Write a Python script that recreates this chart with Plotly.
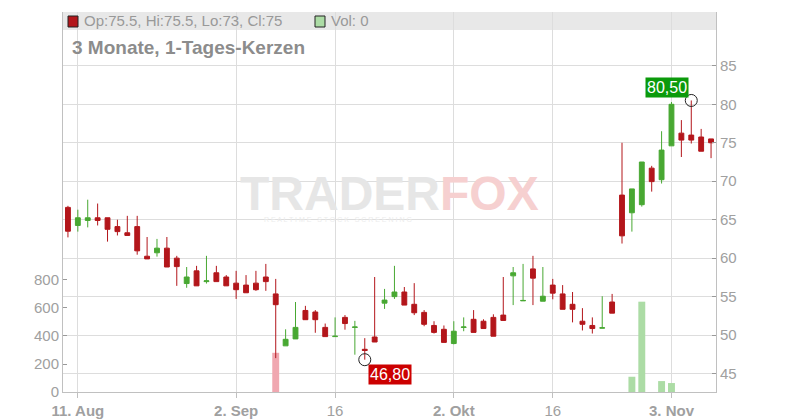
import pandas as pd
import plotly.graph_objects as go

# ---- data ----
dates = [d.strftime("%Y-%m-%d") for d in pd.bdate_range("2025-08-08", "2025-11-07")]

opens = [66.6, 64.25, 64.9, 65.25, 65.25, 64.1, 63.3, 64.1, 60.25, 60.7,
         61.3, 60.0, 56.7, 58.35, 56.95, 58.1, 57.55, 56.75, 56.5, 56.75,
         57.55, 55.35, 48.6, 49.5, 53.2, 53.0, 51.0, 49.8, 52.3, 51.0,
         48.15, 49.75, 54.15, 55.0, 55.6, 54.0, 52.95, 51.25, 50.75, 48.9,
         51.0, 52.05, 51.8, 52.3, 52.6, 57.7, 54.45, 58.6, 54.4, 56.5,
         55.35, 54.0, 51.8, 51.25, 50.9, 54.3, 68.2, 65.9, 66.95, 71.7,
         70.2, 74.6, 76.25, 76.0, 75.75, 75.5]
highs = [66.8, 66.3, 67.6, 67.1, 65.25, 65.0, 65.5, 65.5, 62.75, 62.5,
         62.75, 60.3, 58.85, 59.0, 60.3, 59.0, 57.8, 58.35, 57.8, 58.35,
         59.25, 57.3, 50.75, 54.3, 53.8, 53.25, 51.5, 52.3, 52.6, 51.85,
         49.6, 57.55, 56.0, 59.0, 56.25, 56.75, 53.25, 51.8, 51.25, 51.8,
         52.3, 53.25, 52.05, 52.7, 57.55, 58.85, 59.25, 60.3, 58.85, 57.3,
         56.5, 55.6, 53.5, 52.3, 55.05, 55.35, 75.0, 69.0, 72.5, 72.0,
         76.5, 80.3, 77.95, 80.5, 76.8, 75.5]
lows = [62.7, 63.45, 64.0, 64.25, 62.15, 62.95, 62.95, 60.45, 59.9, 60.2,
        58.85, 56.4, 56.15, 56.4, 56.7, 56.95, 56.4, 54.7, 55.5, 55.75,
        55.75, 47.0, 48.6, 49.5, 52.0, 50.3, 49.8, 49.8, 50.7, 47.45,
        46.8, 49.1, 53.4, 54.7, 53.9, 52.6, 51.15, 50.2, 49.05, 48.8,
        50.5, 50.35, 50.85, 49.85, 51.9, 53.9, 54.45, 53.9, 54.4, 54.65,
        53.35, 51.65, 50.6, 50.2, 50.9, 52.85, 61.9, 63.45, 66.7, 68.65,
        69.7, 74.6, 73.15, 74.9, 73.9, 73.0]
closes = [63.5, 65.25, 65.25, 64.9, 63.75, 63.45, 62.95, 60.95, 59.9, 61.3,
          58.85, 58.9, 57.55, 56.4, 57.05, 56.95, 56.4, 55.9, 55.5, 55.9,
          56.95, 53.95, 49.45, 51.0, 52.0, 52.0, 49.8, 49.85, 51.5, 51.05,
          48.0, 49.1, 54.55, 55.6, 53.9, 52.9, 51.4, 50.35, 49.05, 50.5,
          51.05, 50.35, 50.85, 49.85, 51.9, 58.1, 54.5, 57.4, 55.05, 55.45,
          53.35, 53.35, 51.4, 50.85, 50.95, 52.85, 62.9, 69.0, 72.5, 69.95,
          74.05, 80.0, 75.35, 75.35, 73.9, 75.0]
volumes = [0, 0, 0, 0, 0, 0, 0, 0, 0, 0,
           0, 0, 0, 0, 0, 0, 0, 0, 0, 0,
           0, 280, 0, 0, 0, 0, 0, 0, 0, 0,
           0, 0, 0, 0, 0, 0, 0, 0, 0, 0,
           0, 0, 0, 0, 0, 0, 0, 0, 0, 0,
           0, 0, 0, 0, 0, 0, 0, 109, 645, 0,
           78, 64, 0, 0, 0, 0]

tick_dates = ["2025-08-11", "2025-09-02", "2025-09-16", "2025-10-02", "2025-10-16", "2025-11-03"]
tick_labels = ["<b>11. Aug</b>", "<b>2. Sep</b>", "16", "<b>2. Okt</b>", "16", "<b>3. Nov</b>"]
price_ticks = [45, 50, 55, 60, 65, 70, 75, 80, 85]
vol_ticks = [0, 200, 400, 600, 800]

low_mark = ("2025-09-19", 46.8, "46,80")
high_mark = ("2025-11-05", 80.5, "80,50")

title_text = "3 Monate, 1-Tages-Kerzen"
ohlc_text = "Op:75.5, Hi:75.5, Lo:73, Cl:75"
vol_text = "Vol: 0"

# ---- styles ----
RED = "#b3161b"
GREEN = "#48a832"
VOL_RED = "#f0a7b0"
VOL_GREEN = "#acdca5"
GRID = "#dddddd"
AXIS = "#c0c0c0"
LABEL = "#a0a0a0"
FONT = "Liberation Sans"

vol_colors = [VOL_GREEN if c >= o else VOL_RED for o, c in zip(opens, closes)]

fig = go.Figure()

fig.add_trace(go.Bar(
    x=dates, y=volumes, marker=dict(color=vol_colors, line=dict(width=0)),
    width=0.7, yaxis="y", xaxis="x", showlegend=False, hoverinfo="skip"))

fig.add_trace(go.Candlestick(
    x=dates, open=opens, high=highs, low=lows, close=closes,
    increasing=dict(line=dict(color=GREEN, width=1), fillcolor=GREEN),
    decreasing=dict(line=dict(color=RED, width=1), fillcolor=RED),
    whiskerwidth=0, yaxis="y2", xaxis="x", showlegend=False))

fig.add_trace(go.Scatter(
    x=[low_mark[0], high_mark[0]], y=[low_mark[1], high_mark[1]],
    mode="markers", yaxis="y2",
    marker=dict(symbol="circle-open", size=12, color="#222222", line=dict(width=1)),
    showlegend=False, hoverinfo="skip"))

# the page body has an 8px margin; figure is sized so that the plot area
# lands at x 63..716, y 12..392 of the 800x420 window
OFF = 8
W, H = 800 - OFF, 420 - OFF
PL, PR, PT, PB = 63 - OFF, 84, 12 - OFF, 28
pw, ph = W - PL - PR, H - PT - PB

def px_x(x):
    return (x - OFF - PL) / pw

def px_y(y):
    return (H - PB - (y - OFF)) / ph

shapes = [
    dict(type="rect", xref="paper", yref="paper", x0=0, x1=1, y0=px_y(30), y1=1,
         fillcolor="#e8e8e8", line=dict(width=0), layer="below"),
    dict(type="rect", xref="paper", yref="paper", x0=px_x(68), x1=px_x(78), y0=px_y(27), y1=px_y(16),
         fillcolor=RED, line=dict(color="#222222", width=1)),
    dict(type="rect", xref="paper", yref="paper", x0=px_x(315), x1=px_x(325), y0=px_y(27), y1=px_y(16),
         fillcolor=VOL_GREEN, line=dict(color="#222222", width=1)),
]

annotations = [
    dict(xref="paper", yref="paper", x=px_x(82), y=px_y(21), text=ohlc_text, showarrow=False,
         xanchor="left", yanchor="middle", font=dict(family=FONT, size=15, color="#999999")),
    dict(xref="paper", yref="paper", x=px_x(329), y=px_y(21), text=vol_text, showarrow=False,
         xanchor="left", yanchor="middle", font=dict(family=FONT, size=15, color="#999999")),
    dict(xref="paper", yref="paper", x=px_x(70), y=px_y(48), text="<b>" + title_text + "</b>", showarrow=False,
         xanchor="left", yanchor="middle", font=dict(family=FONT, size=19, color="#8c8c8c")),
    # watermark
    dict(xref="paper", yref="paper", x=px_x(389), y=px_y(193),
         text="<b>TRADER<span style='color:#f6d0d0'>FOX</span></b>", showarrow=False,
         xanchor="center", yanchor="middle", font=dict(family=FONT, size=48, color="#e6e6e6")),
    dict(xref="paper", yref="paper", x=px_x(338), y=px_y(220),
         text="R E A L T I M E   S T O C K   S C R E E N I N G", showarrow=False,
         xanchor="center", yanchor="middle", font=dict(family=FONT, size=7, color="#ececec")),
    # price labels
    dict(x=low_mark[0], y=low_mark[1], xref="x", yref="y2", text=low_mark[2], showarrow=False,
         xanchor="left", yanchor="top", xshift=3, yshift=-4, bgcolor="#cc0000", borderpad=1,
         font=dict(family=FONT, size=16, color="white")),
    dict(x=high_mark[0], y=high_mark[1], xref="x", yref="y2", text=high_mark[2], showarrow=False,
         xanchor="right", yanchor="bottom", xshift=-2, yshift=2, bgcolor="#0b9a0b", borderpad=1,
         font=dict(family=FONT, size=16, color="white")),
]

fig.update_layout(
    width=W, height=H,
    margin=dict(l=PL, r=PR, t=PT, b=PB, pad=0, autoexpand=False),
    paper_bgcolor="white", plot_bgcolor="white",
    font=dict(family=FONT, color=LABEL),
    showlegend=False,
    xaxis=dict(type="category", range=[-0.5, len(dates) - 0.5], automargin=False,
               tickmode="array", tickvals=tick_dates, ticktext=tick_labels,
               showgrid=True, gridcolor=GRID, gridwidth=1,
               showline=True, linecolor=AXIS, linewidth=1,
               ticks="outside", ticklen=5, tickcolor=AXIS,
               tickfont=dict(family=FONT, size=15, color=LABEL),
               rangeslider=dict(visible=False), zeroline=False, fixedrange=True),
    yaxis=dict(range=[0, 2714], tickmode="array", tickvals=vol_ticks, automargin=False,
               showgrid=False, zeroline=False,
               showline=True, linecolor=AXIS, linewidth=1,
               ticks="inside", ticklen=4, tickcolor="#999999",
               tickfont=dict(family=FONT, size=15, color=LABEL), side="left"),
    yaxis2=dict(range=[42.6, 92.0], tickmode="array", tickvals=price_ticks, automargin=False,
                overlaying="y", side="right",
                showgrid=True, gridcolor=GRID, gridwidth=1, zeroline=False,
                showline=True, linecolor=AXIS, linewidth=1,
                ticks="inside", ticklen=4, tickcolor="#999999",
                tickfont=dict(family=FONT, size=15, color=LABEL)),
    shapes=shapes,
    annotations=annotations,
)

fig.write_html("out.html")
